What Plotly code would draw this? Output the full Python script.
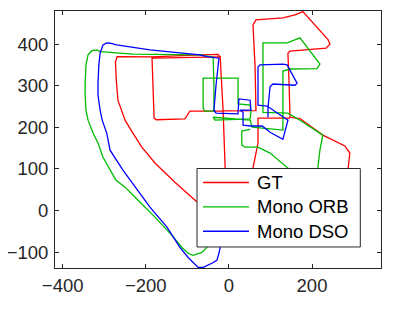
import plotly.graph_objects as go

# ---- data (in data units) ----
gt_x = [-17, -9, -14, -21, -26, -70, -185, -269, -273, -271, -267, -250, -231, -210, -178, -130, -82, -45, -17,
        -9, -14, -21, -185, -183, -180, -175, -106, -100, -94, 65, 63, 58, 65, 130, 159, 178, 239, 243, 234,
        147, 142, 145, 147, 171, 226, 279, 291, 287, 279, 75, 58, 70, 70, 147]
gt_y = [-48, 102, 241, 369, 375, 374, 369, 370, 357, 313, 265, 217, 186, 153, 114, 68, 25, -7, -48,
        102, 241, 369, 366, 289, 222, 218, 220, 229, 239, 240, 345, 446, 458, 463, 470, 478, 410, 400, 390,
        383, 378, 301, 224, 221, 181, 155, 138, 102, 25, 25, 102, 162, 222, 222]

orb_x = [-33, -53, -65, -86, -98, -113, -137, -178, -231, -250, -272, -286, -303, -315, -327, -339, -344, -346,
         -346, -344, -339, -330, -318, -310, -231, -70, -38, -36, -36, -58, -62, -62, 22, 22, 51, 53, 51, -33,
         -38, 51, 56, 130, 130, 147, 212, 219, 171, 140, 82, 82, 142, 171, 226, 219, 214, 210, 159, 142, 99,
         70, 39, 31, 31, 51]
orb_y = [-60, -89, -101, -108, -103, -89, -60, -16, 37, 56, 73, 97, 128, 162, 186, 217, 241, 277,
         306, 350, 374, 384, 386, 382, 376, 374, 369, 301, 239, 239, 246, 318, 318, 256, 253, 236, 220, 217,
         224, 217, 200, 193, 335, 340, 341, 352, 415, 403, 403, 236, 234, 217, 181, 145, 102, 25, 37, 102, 138,
         152, 152, 157, 191, 195]

dso_x = [-17, -19, -24, -29, -41, -62, -74, -98, -118, -149, -190, -231, -255, -286, -294, -305, -310, -315,
         -315, -313, -310, -303, -294, -286, -270, -190, -70, -53, -24, -31, -36, -31, 22, 24, 51, 53, 27, 34,
         34, 53, 80, 99, 130, 142, 92, 70, 70, 75, 130, 140, 164, 159, 106, 99, 94, 94]
dso_y = [-60, -79, -103, -120, -127, -137, -137, -113, -89, -40, 8, 65, 97, 145, 186, 217, 241, 277,
         306, 350, 378, 398, 403, 402, 398, 386, 374, 370, 366, 301, 241, 234, 232, 268, 265, 241, 241, 236,
         205, 203, 203, 188, 171, 217, 251, 253, 345, 350, 352, 350, 306, 301, 304, 297, 246, 224]

series_names = ["GT", "Mono ORB", "Mono DSO"]
series_colors = ["#ff0000", "#00bb00", "#0000ff"]

x_ticks = [-400, -200, 0, 200]
y_ticks = [-100, 0, 100, 200, 300, 400]
x_range = [-418.5, 366]
y_range = [-138.4, 479.5]

FONT = "Liberation Sans, Arial, Helvetica, sans-serif"
DARK = "#262626"

fig = go.Figure()
for name, xs, ys, col in zip(series_names, [gt_x, orb_x, dso_x], [gt_y, orb_y, dso_y], series_colors):
    fig.add_trace(go.Scatter(x=xs, y=ys, mode="lines", name=name, showlegend=False,
                             line=dict(color=col, width=1.3), hoverinfo="skip"))

axis_common = dict(
    showgrid=False, zeroline=False, showline=True, linecolor=DARK, linewidth=1,
    mirror="ticks", ticks="inside", ticklen=4, tickcolor=DARK, tickwidth=1,
    automargin=False,
    tickfont=dict(family=FONT, size=18.5, color=DARK),
)
fig.update_xaxes(range=x_range, tickvals=x_ticks, ticklabelstandoff=1, **axis_common)
fig.update_yaxes(range=y_range, tickvals=y_ticks, ticklabelstandoff=2, **axis_common)

# ---- legend box drawn in paper coordinates (MATLAB-style legend) ----
leg_x0, leg_x1, leg_y0, leg_y1 = 0.4356, 0.9365, 0.0818, 0.3872
sample_x0, sample_x1, text_x = 0.454, 0.595, 0.6135
row_y = [0.3327, 0.2376, 0.143]

shapes = [dict(type="rect", xref="paper", yref="paper", x0=leg_x0, x1=leg_x1, y0=leg_y0, y1=leg_y1,
               fillcolor="white", line=dict(color=DARK, width=1), layer="above")]
annotations = []
for name, col, yy in zip(series_names, series_colors, row_y):
    shapes.append(dict(type="line", xref="paper", yref="paper", x0=sample_x0, x1=sample_x1, y0=yy, y1=yy,
                       line=dict(color=col, width=1.3), layer="above"))
    annotations.append(dict(xref="paper", yref="paper", x=text_x, y=yy, text=name, showarrow=False,
                            xanchor="left", yanchor="middle",
                            font=dict(family=FONT, size=18.5, color="black")))

# page body has an 8 px default margin, so the figure is 8 px smaller than the window
fig.update_layout(
    width=391, height=307,
    margin=dict(l=47, r=18, t=3, b=47.3),
    paper_bgcolor="white", plot_bgcolor="white",
    showlegend=False, shapes=shapes, annotations=annotations,
)

fig.write_html("out.html")
